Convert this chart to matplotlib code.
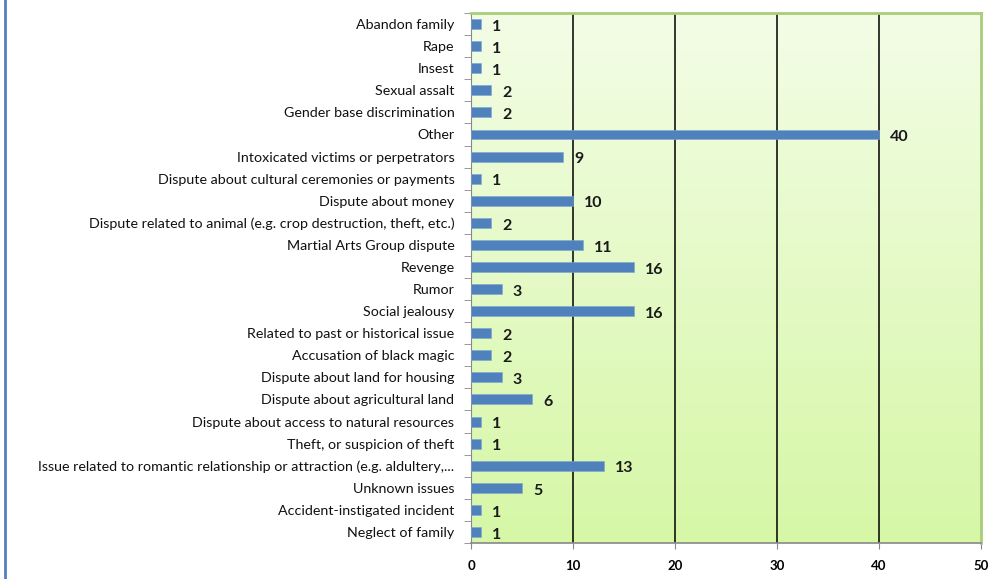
import numpy as np
import matplotlib.pyplot as plt
from matplotlib.colors import LinearSegmentedColormap

# categories, top to bottom as shown
categories = [
    "Abandon family",
    "Rape",
    "Insest",
    "Sexual assalt",
    "Gender base discrimination",
    "Other",
    "Intoxicated victims or perpetrators",
    "Dispute about cultural ceremonies or payments",
    "Dispute about money",
    "Dispute related to animal (e.g. crop destruction, theft, etc.)",
    "Martial Arts Group dispute",
    "Revenge",
    "Rumor",
    "Social jealousy",
    "Related to past or historical issue",
    "Accusation of black magic",
    "Dispute about land for housing",
    "Dispute about agricultural land",
    "Dispute about access to natural resources",
    "Theft, or suspicion of theft",
    "Issue related to romantic relationship or attraction (e.g. aldultery,...",
    "Unknown issues",
    "Accident-instigated incident",
    "Neglect of family",
]
counts = [1, 1, 1, 2, 2, 40, 9, 1, 10, 2, 11, 16, 3, 16, 2, 2, 3, 6, 1, 1, 13, 5, 1, 1]
xticks = [0, 10, 20, 30, 40, 50]

plt.rcParams['font.family'] = ['Lato', 'DejaVu Sans']

fig = plt.figure(figsize=(9.9, 5.79), dpi=100)
ax = fig.add_axes([0.4758, 0.0622, 0.5151, 0.9153])

# 背景渐变
bg = LinearSegmentedColormap.from_list('bg', ['#f3fde6', '#d6f7a6'])
grad = np.linspace(0, 1, 256).reshape(-1, 1)
ax.imshow(grad, cmap=bg, aspect='auto', extent=[0, 50, len(categories) - 0.5, -0.5],
          zorder=0)

y = np.arange(len(categories))
ax.barh(y, counts, height=0.45, color='#4f81bd', edgecolor='#7fa4d2', linewidth=0.4,
        zorder=3)

for yi, v in zip(y, counts):
    ax.annotate(str(v), (v, yi), xytext=(8, -2), textcoords='offset points',
                ha='left', va='center', fontsize=11.5, fontweight='bold',
                color='#1a1a1a', zorder=4)

ax.set_xlim(0, 50)
ax.set_ylim(len(categories) - 0.5, -0.5)
ax.set_xticks(xticks)
ax.set_xticklabels([str(t) for t in xticks], fontsize=9.5, fontweight='bold')
ax.set_yticks(y)
ax.set_yticklabels(categories, fontsize=10.3, color='#111111')
ax.tick_params(axis='y', length=0, pad=12)
ax.set_yticks(np.arange(-0.5, len(categories)), minor=True)
ax.tick_params(axis='y', which='minor', length=5, color='#888888', direction='out')
ax.tick_params(axis='x', length=4, color='#888888', pad=8)

for gx in xticks[1:-1]:
    ax.axvline(gx, color='black', linewidth=1.1, zorder=2)

ax.spines['left'].set_color('#888888')
ax.spines['bottom'].set_color('#888888')
ax.spines['bottom'].set_linewidth(1.2)
ax.spines['top'].set_color('#a9cd7a')
ax.spines['right'].set_color('#a9cd7a')
ax.spines['top'].set_linewidth(2)
ax.spines['right'].set_linewidth(2)

# 左侧蓝色边框
fig.add_artist(plt.Line2D([0.005, 0.005], [0, 1], color='#4f81bd', linewidth=2,
                          transform=fig.transFigure))

plt.savefig('out.png', dpi=100)
